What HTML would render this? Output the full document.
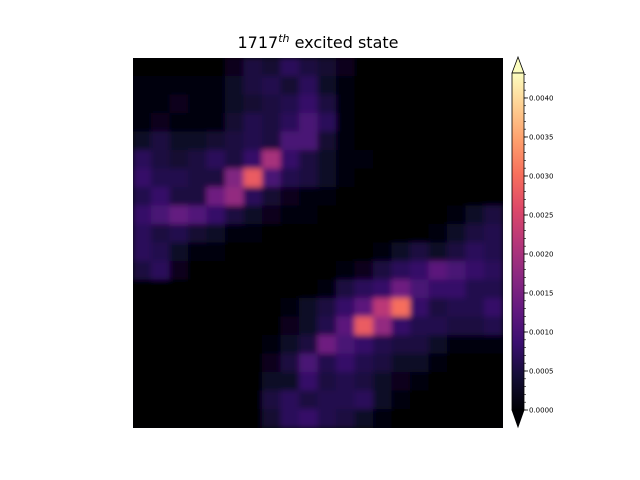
<!DOCTYPE html>
<html><head><meta charset="utf-8"><style>
body{margin:0;background:#fff;}
svg{display:block;font-family:"DejaVu Sans","Liberation Sans",sans-serif;}
</style></head><body>
<svg id="chart" width="640" height="480" viewBox="0 0 640 480">
<defs>
<linearGradient id="magma" x1="0" y1="1" x2="0" y2="0">
<stop offset="0" stop-color="#000004"/><stop offset="0.1" stop-color="#140e36"/><stop offset="0.2" stop-color="#3b0f70"/><stop offset="0.3" stop-color="#641a80"/><stop offset="0.4" stop-color="#8c2981"/><stop offset="0.5" stop-color="#b73779"/><stop offset="0.6" stop-color="#de4968"/><stop offset="0.7" stop-color="#f7705c"/><stop offset="0.8" stop-color="#fe9f6d"/><stop offset="0.9" stop-color="#fecf92"/><stop offset="1" stop-color="#fcfdbf"/>
</linearGradient>
<filter id="soft" x="0" y="0" width="1" height="1"><feGaussianBlur stdDeviation="3"/></filter>
<clipPath id="plotclip"><rect x="133" y="58" width="370" height="370"/></clipPath>
</defs>
<text x="318" y="48" text-anchor="middle" font-size="16" fill="#000">1717<tspan dy="-6" font-size="11" font-style="italic">th</tspan><tspan dy="6"> excited state</tspan></text>
<rect x="133" y="58" width="370" height="370" fill="#000004"/>
<g id="cells" clip-path="url(#plotclip)"><g id="cellsInner" filter="url(#soft)"></g></g>
<g id="cbar">
<polygon points="512,73 518,57 524,73" fill="#fcfdbf" stroke="#000" stroke-width="0.8"/>
<rect x="512" y="73" width="12" height="337" fill="url(#magma)" stroke="#000" stroke-width="0.8"/>
<polygon points="512,410 518,427 524,410" fill="#000004" stroke="#000" stroke-width="0.8"/>
</g>
</svg>
<script>
const nRows = 20, nCols = 20;
// values in units of 1e-4
const gridRows = [
[0,0,0,0,0,2,5,4,7,5,4,2,0,0,0,0,0,0,0,0],
[1,1,1,1,1,3,5,6,4,7,3,1,0,0,0,0,0,0,0,0],
[1,1,2,1,1,3,4,5,6,8,5,1,0,0,0,0,0,0,0,0],
[1,2,1,1,1,4,6,5,7,10,7,1,0,0,0,0,0,0,0,0],
[3,5,3,3,4,5,6,5,10,10,4,1,0,0,0,0,0,0,0,0],
[7,5,4,5,7,5,8,20,8,5,3,1,1,0,0,0,0,0,0,0],
[8,6,6,5,5,16,28,10,6,5,3,1,0,0,0,0,0,0,0,0],
[6,8,5,5,14,18,7,4,2,1,1,0,0,0,0,0,0,0,0,0],
[8,10,13,11,8,5,3,2,1,1,0,0,0,0,0,0,0,1,3,5],
[7,5,6,4,3,1,1,0,0,0,0,0,0,0,0,0,1,3,5,6],
[7,6,3,1,1,0,0,0,0,0,0,0,0,1,3,5,3,5,7,6],
[5,7,2,0,0,0,0,0,0,0,0,1,2,5,7,8,12,10,8,7],
[0,0,0,0,0,0,0,0,0,0,1,5,7,8,14,10,8,8,6,6],
[0,0,0,0,0,0,0,0,1,3,5,8,12,22,30,8,5,6,6,8],
[0,0,0,0,0,0,0,0,2,3,6,12,28,18,8,6,6,5,5,6],
[0,0,0,0,0,0,0,1,3,5,14,10,8,6,5,5,3,1,1,1],
[0,0,0,0,0,0,0,2,5,10,6,8,6,5,3,3,1,0,0,0],
[0,0,0,0,0,0,0,3,3,8,5,6,5,3,2,1,0,0,0,0],
[0,0,0,0,0,0,0,5,7,5,6,6,7,3,1,0,0,0,0,0],
[0,0,0,0,0,0,0,4,7,8,6,5,3,1,0,0,0,0,0,0]
];
const cbTicks = [0.0000,0.0005,0.0010,0.0015,0.0020,0.0025,0.0030,0.0035,0.0040];
const vmin = 0, vmax = 0.00432;
const NS = "http://www.w3.org/2000/svg";
const x0 = 133, y0 = 58, W = 370, H = 370;
const cw = W / nCols, ch = H / nRows;
function xScale(c){ return x0 + c * cw; }
function yScale(r){ return y0 + r * ch; }
function cbY(v){ return 410 - (v - vmin) / (vmax - vmin) * 337; }
const stops = [[0,[0,0,4]],[0.1,[20,14,54]],[0.2,[59,15,112]],[0.3,[100,26,128]],[0.4,[140,41,129]],[0.5,[183,55,121]],[0.6,[222,73,104]],[0.7,[247,112,92]],[0.8,[254,159,109]],[0.9,[254,207,146]],[1,[252,253,191]]];
function magma(t){
  t = Math.max(0, Math.min(1, t));
  for (let i = 1; i < stops.length; i++) {
    if (t <= stops[i][0]) {
      const a = stops[i-1], b = stops[i], f = (t - a[0]) / (b[0] - a[0]);
      const c = a[1].map((v, k) => Math.round(v + (b[1][k] - v) * f));
      return "rgb(" + c.join(",") + ")";
    }
  }
  return "rgb(252,253,191)";
}
const g = document.getElementById("cellsInner");
gridRows.forEach((row, r) => {
  row.forEach((val, c) => {
    const rect = document.createElementNS(NS, "rect");
    rect.setAttribute("x", xScale(c) - 0.5);
    rect.setAttribute("y", yScale(r) - 0.5);
    rect.setAttribute("width", cw + 1);
    rect.setAttribute("height", ch + 1);
    rect.setAttribute("fill", magma(val * 1e-4 / vmax));
    
    
    g.appendChild(rect);
  });
});
const cb = document.getElementById("cbar");
for (let v = 0; v <= 0.00432; v += 0.0001) {
  const y = cbY(v);
  const t = document.createElementNS(NS, "line");
  t.setAttribute("x1", 524); t.setAttribute("x2", 526);
  t.setAttribute("y1", y); t.setAttribute("y2", y);
  t.setAttribute("stroke", "#000"); t.setAttribute("stroke-width", "0.6");
  
  
  cb.appendChild(t);
}
cbTicks.forEach(v => {
  const y = cbY(v);
  const t = document.createElementNS(NS, "line");
  t.setAttribute("x1", 524); t.setAttribute("x2", 528);
  t.setAttribute("y1", y); t.setAttribute("y2", y);
  t.setAttribute("stroke", "#000"); t.setAttribute("stroke-width", "0.8");
  
  
  cb.appendChild(t);
  const tx = document.createElementNS(NS, "text");
  tx.setAttribute("x", 529); tx.setAttribute("y", y + 2.5);
  tx.setAttribute("font-size", "7");
  tx.textContent = v.toFixed(4);
  
  
  cb.appendChild(tx);
});
</script>
</body></html>
